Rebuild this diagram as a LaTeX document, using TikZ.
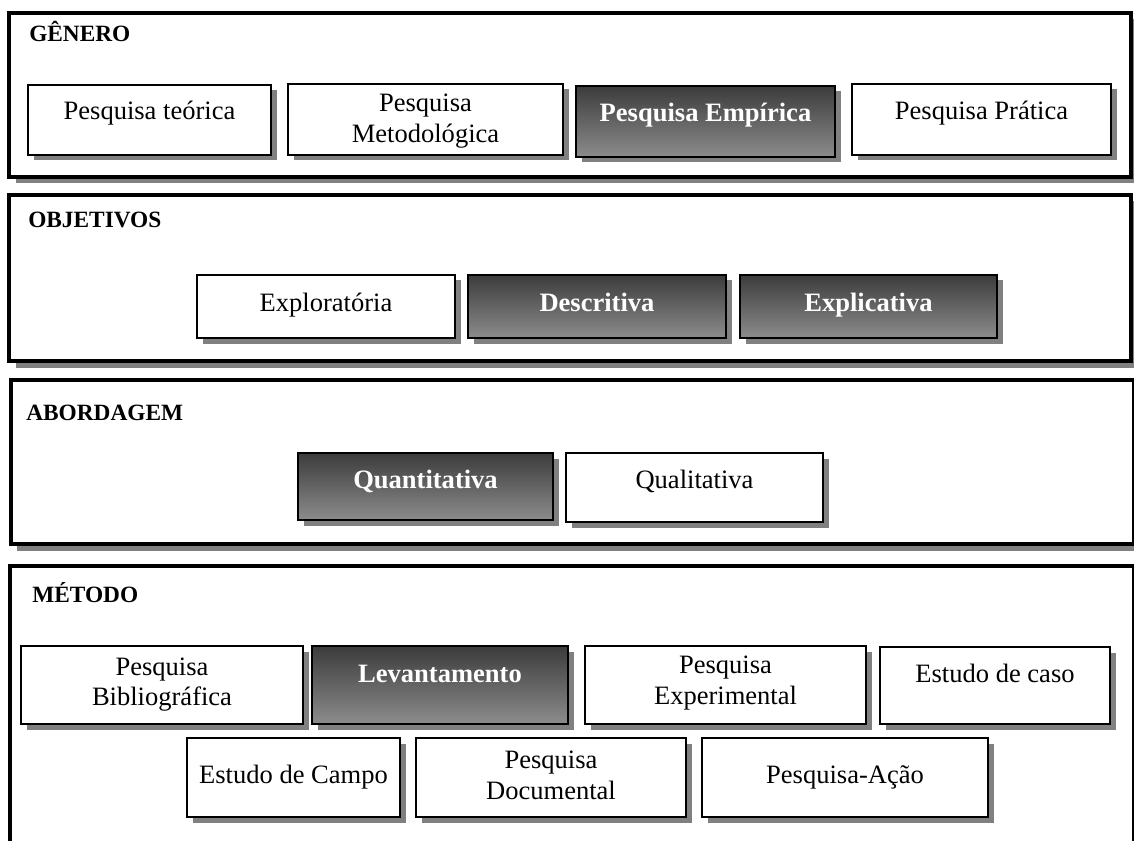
\documentclass[tikz,border=0pt]{standalone}
\usepackage{fontspec}
\setmainfont{Liberation Serif}
\definecolor{shadowgray}{HTML}{808080}
\definecolor{darktop}{HTML}{3C3C3C}
\definecolor{darkbottom}{HTML}{8C8C8C}
\tikzset{
  panel/.style={draw=black, line width=3pt, fill=white, rectangle},
  lightbox/.style={draw=black, line width=1.5pt, fill=white, rectangle},
  darkbox/.style={draw=black, line width=1.5pt, rectangle, top color=darktop, bottom color=darkbottom},
  heading/.style={font=\fontsize{17.5}{21}\selectfont\bfseries, anchor=base west, inner sep=0pt},
  boxtext/.style={font=\fontsize{19.9}{23}\selectfont, anchor=base, inner sep=0pt},
  darktext/.style={font=\fontsize{19.9}{23}\selectfont\bfseries, text=white, anchor=base, inner sep=0pt},
}
% #1 style, #2 x1, #3 y1, #4 x2, #5 y2, #6 name, #7 shadow offset
\newcommand\rbox[7]{%
  \pgfmathsetmacro\rbw{(#4-#2)*0.75}%
  \pgfmathsetmacro\rbh{(#5-#3)*0.75}%
  \fill[shadowgray] (#2+#7,#3+#7) rectangle (#4+#7,#5+#7);
  \node[#1, minimum width=\rbw pt, minimum height=\rbh pt, inner sep=0pt, outer sep=0pt] (#6) at ({(#2+#4)/2},{(#3+#5)/2}) {};
}
\begin{document}
\begin{tikzpicture}[x=0.75pt, y=-0.75pt]
\useasboundingbox (0,0) rectangle (1134,841);
\clip (0,0) rectangle (1134,841);
\fill[white] (0,0) rectangle (1134,841);

% panels
\rbox{panel}{9}{13}{1131}{177}{genero}{6.5}
\rbox{panel}{9}{195}{1131}{361}{objetivos}{6.5}
\rbox{panel}{10.5}{380}{1133.5}{544}{abordagem}{6.5}
\rbox{panel}{10}{565.5}{1133.5}{900}{metodo}{6.5}

\node[heading] (h-genero) at (29,42) {GÊNERO};
\node[heading] (h-objetivos) at (28,228) {OBJETIVOS};
\node[heading] (h-abordagem) at (26,420) {ABORDAGEM};
\node[heading] (h-metodo) at (32,602) {MÉTODO};

% Gênero
\rbox{lightbox}{28}{85}{271}{155}{teorica}{5.5}
\node[boxtext] (t-teorica) at (149.5,120) {Pesquisa teórica};
\rbox{lightbox}{288}{84}{563}{155}{metodologica}{5.5}
\node[boxtext] (t-metodologica-a) at (425.5,112) {Pesquisa};
\node[boxtext] (t-metodologica-b) at (425.5,143) {Metodológica};
\rbox{darkbox}{576}{86}{835}{157}{empirica}{5.5}
\node[darktext] (t-empirica) at (705.5,122) {Pesquisa Empírica};
\rbox{lightbox}{852}{84}{1111}{155}{pratica}{5.5}
\node[boxtext] (t-pratica) at (981.5,120) {Pesquisa Prática};

% Objetivos
\rbox{lightbox}{197}{275}{455}{338}{exploratoria}{5.5}
\node[boxtext] (t-exploratoria) at (326,312) {Exploratória};
\rbox{darkbox}{468}{275}{726}{338}{descritiva}{5.5}
\node[darktext] (t-descritiva) at (597,312) {Descritiva};
\rbox{darkbox}{740}{275}{997}{338}{explicativa}{5.5}
\node[darktext] (t-explicativa) at (868.5,312) {Explicativa};

% Abordagem
\rbox{darkbox}{298}{453}{553}{520}{quantitativa}{5.5}
\node[darktext] (t-quantitativa) at (425.5,488) {Quantitativa};
\rbox{lightbox}{566}{453}{823}{522}{qualitativa}{5.5}
\node[boxtext] (t-qualitativa) at (694.5,488) {Qualitativa};

% Método
\rbox{lightbox}{21}{646}{303}{724}{bibliografica}{5.5}
\node[boxtext] (t-bibliografica-a) at (162,675) {Pesquisa};
\node[boxtext] (t-bibliografica-b) at (162,705) {Bibliográfica};
\rbox{darkbox}{312}{646}{568}{724}{levantamento}{5.5}
\node[darktext] (t-levantamento) at (440,682) {Levantamento};
\rbox{lightbox}{585}{646}{866}{724}{experimental}{5.5}
\node[boxtext] (t-experimental-a) at (725.5,673) {Pesquisa};
\node[boxtext] (t-experimental-b) at (725.5,704) {Experimental};
\rbox{lightbox}{880}{647}{1110}{724}{caso}{5.5}
\node[boxtext] (t-caso) at (995,682) {Estudo de caso};

\rbox{lightbox}{187}{738}{400}{817}{campo}{5.5}
\node[boxtext] (t-campo) at (293.5,783) {Estudo de Campo};
\rbox{lightbox}{416}{738}{686}{817}{documental}{5.5}
\node[boxtext] (t-documental-a) at (551,768) {Pesquisa};
\node[boxtext] (t-documental-b) at (551,799) {Documental};
\rbox{lightbox}{702}{738}{988}{817}{acao}{5.5}
\node[boxtext] (t-acao) at (845,783) {Pesquisa-Ação};
\end{tikzpicture}
\end{document}
